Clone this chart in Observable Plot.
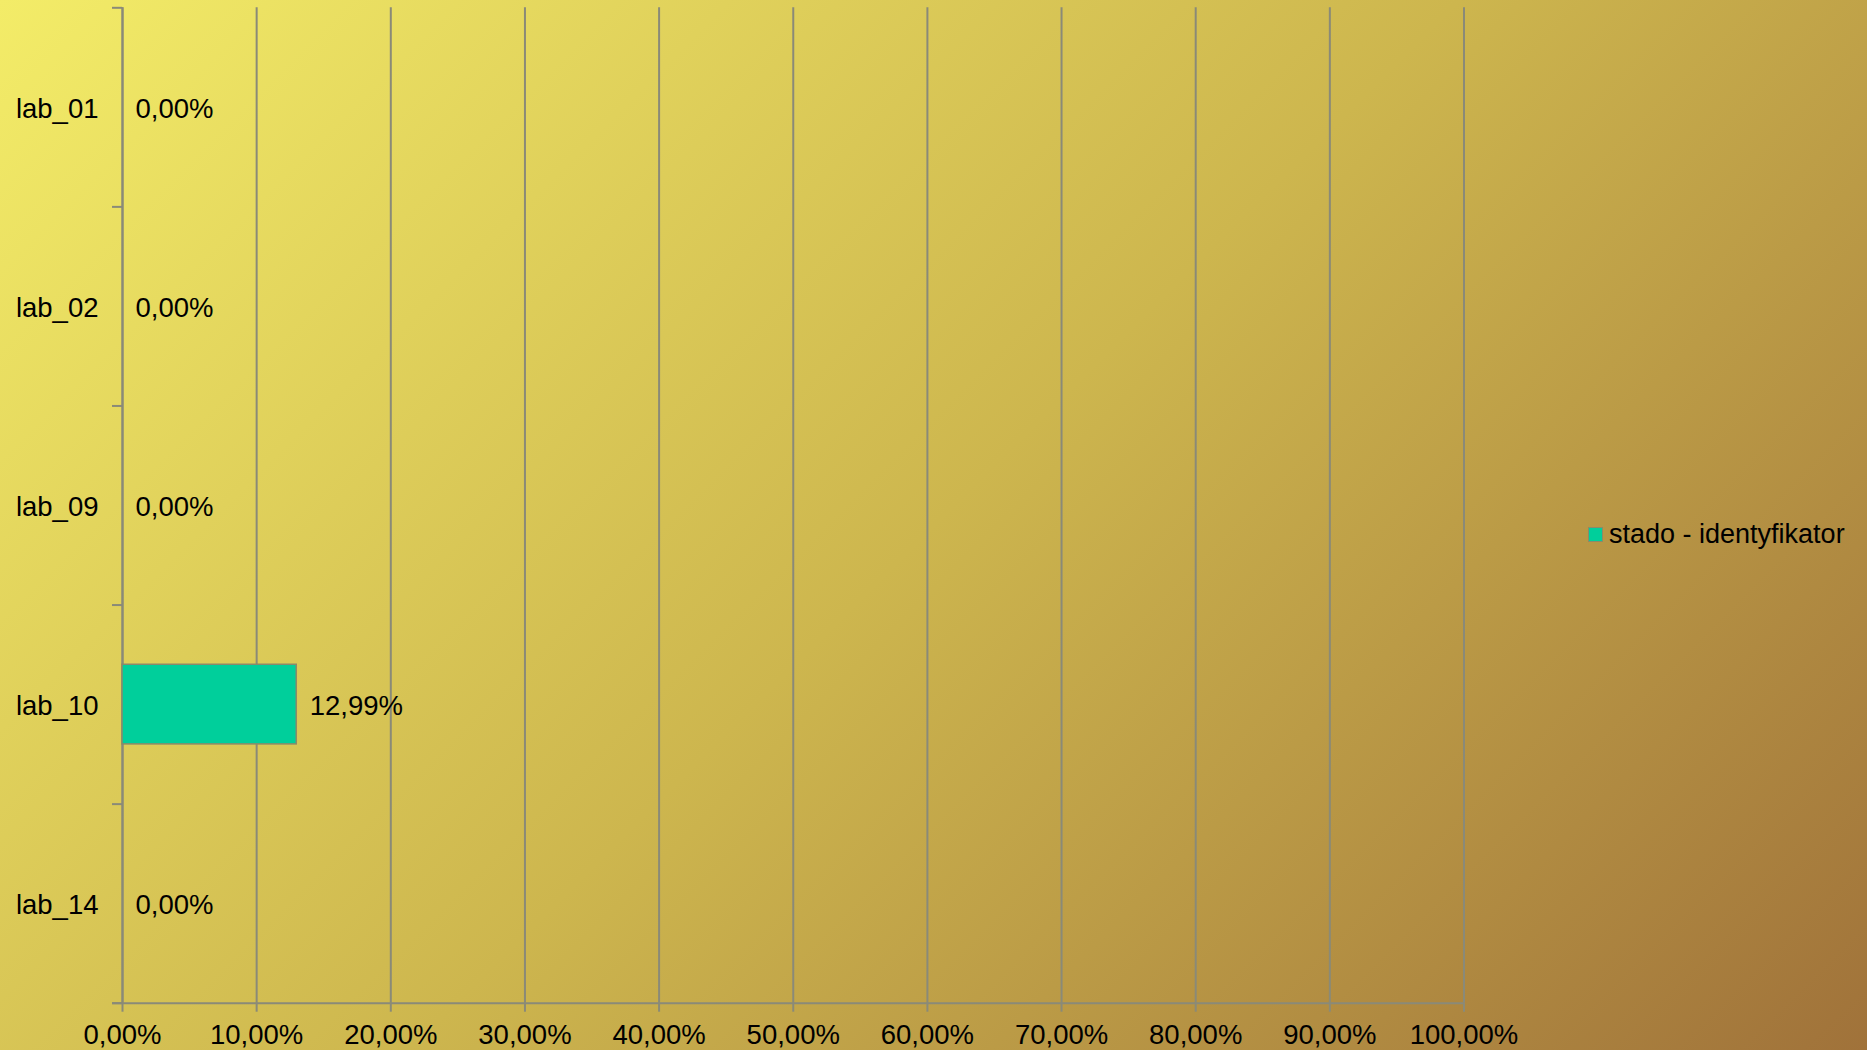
<!DOCTYPE html>
<html>
<head>
<meta charset="utf-8">
<script src="https://cdn.jsdelivr.net/npm/d3@7"></script>
<script src="https://cdn.jsdelivr.net/npm/@observablehq/plot@0.6"></script>
<style>
  html, body { margin: 0; padding: 0; }
  #wrap {
    position: relative; width: 1867px; height: 1050px; overflow: hidden;
    background: linear-gradient(135deg, #F3EC68 0%, #CDB64E 50%, #A0723A 100%);
    font-family: "Liberation Sans", Arial, sans-serif;
  }
  #chart svg { position: absolute; left: 0; top: 0; background: transparent; }
  #legend {
    position: absolute; left: 1588px; top: 519px; display: flex; align-items: center;
    font-size: 27px; color: #000; white-space: nowrap;
  }
  #legend .sw { width: 13px; height: 13px; background: #00CF9B; border: 1px solid #8A8A6A; margin-right: 6px; }
</style>
</head>
<body>
<div id="wrap">
  <div id="chart"></div>
  <div id="legend"><span class="sw"></span><span id="legtext"></span></div>
</div>
<script>
const categories = ["lab_01", "lab_02", "lab_09", "lab_10", "lab_14"];
const values = [0, 0, 0, 0.1299, 0];
const xTicks = [0, 0.1, 0.2, 0.3, 0.4, 0.5, 0.6, 0.7, 0.8, 0.9, 1];
const seriesName = "stado - identyfikator";

document.getElementById("legtext").textContent = seriesName;

const data = categories.map((c, i) => ({category: c, value: values[i], i}));
const fmt = d => (d * 100).toFixed(2).replace(".", ",") + "%";

const W = 1867, H = 1050;
const mL = 122, mR = 403.5, mT = 7.3, mB = 47.3;
const plotW = W - mL - mR;
const tickLenX = 10 / plotW; // 10px in data units
const gridColor = "#8A8A78";
const FS = 27.5;

const chart = Plot.plot({
  width: W,
  height: H,
  marginLeft: mL,
  marginRight: mR,
  marginTop: mT,
  marginBottom: mB,
  style: {background: "transparent", fontFamily: "'Liberation Sans', Arial, sans-serif", fontSize: FS + "px", color: "#000"},
  x: {domain: [0, 1], axis: null},
  y: {domain: [0, categories.length], reverse: true, axis: null},
  marks: [
    // vertical gridlines
    Plot.ruleX(xTicks, {x: d => d, y1: 0, y2: categories.length, stroke: gridColor, strokeWidth: 2}),
    // x-axis
    Plot.axisX(xTicks, {tickSize: 9, tickPadding: 12, tickFormat: fmt, stroke: gridColor, strokeWidth: 2, fontSize: FS, fill: "#000", label: null}),
    // bottom axis line
    Plot.ruleY([categories.length], {x1: -tickLenX, x2: 1, stroke: gridColor, strokeWidth: 2}),
    // left axis line
    Plot.ruleX([0], {y1: 0, y2: categories.length, stroke: gridColor, strokeWidth: 2}),
    // category boundary ticks
    Plot.ruleY(d3.range(categories.length + 1), {y: d => d, x1: -tickLenX, x2: 0, stroke: gridColor, strokeWidth: 2}),
    // bars
    Plot.rect(data.filter(d => d.value > 0), {x1: 0, x2: "value", y1: d => d.i + 0.3, y2: d => d.i + 0.7, fill: "#00CF9B", stroke: "#8A8A6A", strokeWidth: 1.5}),
    // value labels
    Plot.text(data, {x: "value", y: d => d.i + 0.5, text: d => fmt(d.value), textAnchor: "start", dx: 13, dy: 2, fontSize: FS, fill: "#000"}),
    // category labels
    Plot.text(data, {x: 0, y: d => d.i + 0.5, text: "category", textAnchor: "end", dx: -24, dy: 2, fontSize: FS, fill: "#000"})
  ]
});
document.getElementById("chart").appendChild(chart);
</script>
</body>
</html>
